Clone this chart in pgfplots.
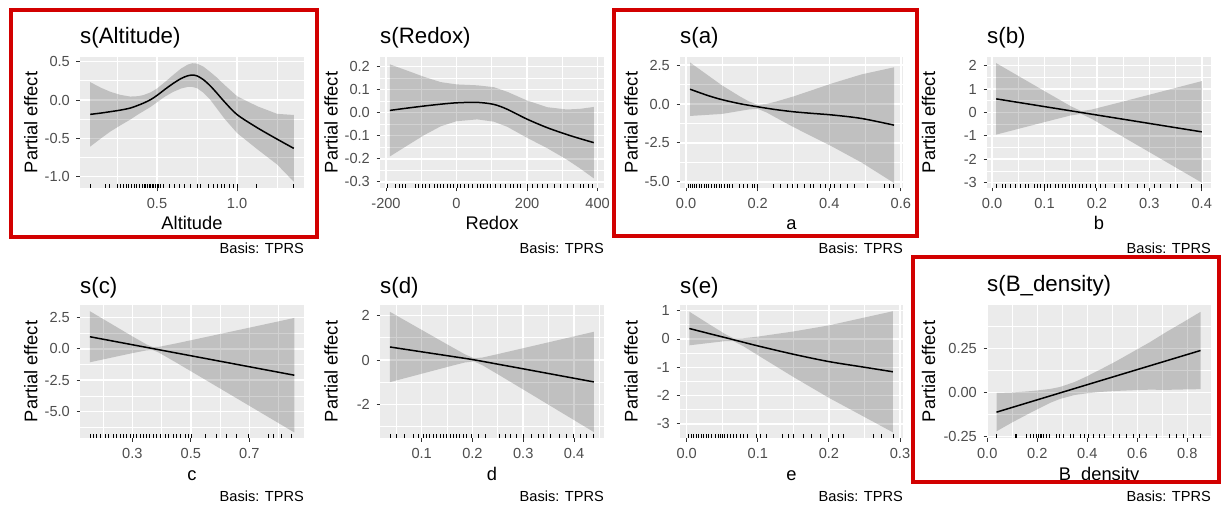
\documentclass[border=0pt]{standalone}
\usepackage{fontspec}
\setmainfont{Liberation Sans}
\usepackage{pgfplots}
\pgfplotsset{compat=1.18}
\definecolor{ggpanel}{HTML}{EBEBEB}
\definecolor{ggtext}{HTML}{4D4D4D}
\definecolor{ggtick}{HTML}{333333}
\definecolor{ggred}{HTML}{D20000}
\pgfdeclareplotmark{rug}{\pgfpathmoveto{\pgfqpoint{0pt}{0pt}}\pgfpathlineto{\pgfqpoint{0pt}{4pt}}\pgfusepathqstroke}
\newcommand\tickfont{\fontsize{14.6}{16}\selectfont}
\newcommand\labfont{\fontsize{18.3}{20}\selectfont}
\newcommand\titfont{\fontsize{22.3}{24}\selectfont}
% panel background and grid (L B W H min max list width)
\newcommand\vgrid[8]{%
  \foreach \v in {#7}{%
    \pgfmathsetmacro\pp{#1+(\v-(#5))/((#6)-(#5))*#3}%
    \draw[white, line width=#8] (\pp pt,#2pt) -- (\pp pt,#2pt+#4pt);
  }%
}
\newcommand\hgrid[8]{%
  \foreach \v in {#7}{%
    \pgfmathsetmacro\pp{#2+(\v-(#5))/((#6)-(#5))*#4}%
    \draw[white, line width=#8] (#1pt,\pp pt) -- (#1pt+#3pt,\pp pt);
  }%
}
\pgfplotsset{
  gg/.style={
    scale only axis, anchor=south west,
    axis line style={draw=none},
    tick align=outside, tick pos=left,
    major tick length=3.5pt,
    tick style={draw=ggtick, line width=0.9pt},
    xticklabel style={font=\tickfont, text=ggtext, inner sep=0pt, yshift=-6.5pt},
    yticklabel style={font=\tickfont, text=ggtext, inner sep=0pt, xshift=-6.5pt},
  },
  ribbon/.style={draw=none, fill=black, fill opacity=0.18},
  fit/.style={black, line width=1.5pt, smooth},
  rug/.style={only marks, mark=rug, black, line width=0.8pt},
}
\begin{document}
\begin{tikzpicture}
\useasboundingbox (0pt,0pt) rectangle (1227pt,504pt);

% ---------- panel backgrounds and grids
\fill[ggpanel] (80pt,316pt) rectangle ++(224pt,131pt);
\vgrid{80}{316}{224}{131}{0.019}{1.418}{0.25,0.75,1.25}{0.75pt}
\hgrid{80}{316}{224}{131}{-1.147}{0.561}{-0.75,-0.25,0.25}{0.75pt}
\vgrid{80}{316}{224}{131}{0.019}{1.418}{0.5,1}{1.5pt}
\hgrid{80}{316}{224}{131}{-1.147}{0.561}{-1,-0.5,0,0.5}{1.5pt}

\fill[ggpanel] (380pt,316pt) rectangle ++(224pt,131pt);
\vgrid{380}{316}{224}{131}{-217}{418}{-100,100,300}{0.75pt}
\hgrid{380}{316}{224}{131}{-0.327}{0.242}{-0.25,-0.15,-0.05,0.05,0.15}{0.75pt}
\vgrid{380}{316}{224}{131}{-217}{418}{-200,0,200,400}{1.5pt}
\hgrid{380}{316}{224}{131}{-0.327}{0.242}{-0.3,-0.2,-0.1,0,0.1,0.2}{1.5pt}

\fill[ggpanel] (680pt,316pt) rectangle ++(223pt,131pt);
\vgrid{680}{316}{223}{131}{-0.017}{0.606}{0.1,0.3,0.5}{0.75pt}
\hgrid{680}{316}{223}{131}{-5.4}{3.02}{-3.75,-1.25,1.25}{0.75pt}
\vgrid{680}{316}{223}{131}{-0.017}{0.606}{0,0.2,0.4,0.6}{1.5pt}
\hgrid{680}{316}{223}{131}{-5.4}{3.02}{-5,-2.5,0,2.5}{1.5pt}

\fill[ggpanel] (987pt,316pt) rectangle ++(224pt,131pt);
\vgrid{987}{316}{224}{131}{-0.0096}{0.4176}{0.05,0.15,0.25,0.35}{0.75pt}
\hgrid{987}{316}{224}{131}{-3.23}{2.37}{-2.5,-1.5,-0.5,0.5,1.5}{0.75pt}
\vgrid{987}{316}{224}{131}{-0.0096}{0.4176}{0,0.1,0.2,0.3,0.4}{1.5pt}
\hgrid{987}{316}{224}{131}{-3.23}{2.37}{-3,-2,-1,0,1,2}{1.5pt}

\fill[ggpanel] (80pt,66pt) rectangle ++(224pt,133pt);
\vgrid{80}{66}{224}{133}{0.121}{0.887}{0.2,0.4,0.6,0.8}{0.75pt}
\hgrid{80}{66}{224}{133}{-7.09}{3.48}{-6.25,-3.75,-1.25,1.25}{0.75pt}
\vgrid{80}{66}{224}{133}{0.121}{0.887}{0.3,0.5,0.7}{1.5pt}
\hgrid{80}{66}{224}{133}{-7.09}{3.48}{-5,-2.5,0,2.5}{1.5pt}

\fill[ggpanel] (380pt,66pt) rectangle ++(224pt,133pt);
\vgrid{380}{66}{224}{133}{0.018}{0.459}{0.05,0.15,0.25,0.35,0.45}{0.75pt}
\hgrid{380}{66}{224}{133}{-3.52}{2.48}{-3,-1,1}{0.75pt}
\vgrid{380}{66}{224}{133}{0.018}{0.459}{0.1,0.2,0.3,0.4}{1.5pt}
\hgrid{380}{66}{224}{133}{-3.52}{2.48}{-2,0,2}{1.5pt}

\fill[ggpanel] (680pt,66pt) rectangle ++(223pt,133pt);
\vgrid{680}{66}{223}{133}{-0.0094}{0.3042}{0.05,0.15,0.25}{0.75pt}
\hgrid{680}{66}{223}{133}{-3.5}{1.2}{-2.5,-1.5,-0.5,0.5}{0.75pt}
\vgrid{680}{66}{223}{133}{-0.0094}{0.3042}{0,0.1,0.2,0.3}{1.5pt}
\hgrid{680}{66}{223}{133}{-3.5}{1.2}{-3,-2,-1,0,1}{1.5pt}

\fill[ggpanel] (987pt,66pt) rectangle ++(224pt,133pt);
\vgrid{987}{66}{224}{133}{-0.001}{0.895}{0.1,0.3,0.5,0.7}{0.75pt}
\hgrid{987}{66}{224}{133}{-0.259}{0.498}{-0.125,0.125,0.375}{0.75pt}
\vgrid{987}{66}{224}{133}{-0.001}{0.895}{0,0.2,0.4,0.6,0.8}{1.5pt}
\hgrid{987}{66}{224}{133}{-0.259}{0.498}{-0.25,0,0.25}{1.5pt}

% ---------- P1 Altitude
\begin{axis}[gg, at={(80pt,316pt)}, width=224pt, height=131pt,
  xmin=0.019, xmax=1.418, ymin=-1.147, ymax=0.561,
  xtick={0.5,1}, xticklabels={0.5,1.0},
  ytick={-1,-0.5,0,0.5}, yticklabels={-1.0,-0.5,0.0,0.5}]
\addplot[ribbon] coordinates {(0.083,0.233)(0.15,0.16)(0.208,0.108)(0.27,0.068)(0.333,0.045)(0.38,0.05)(0.416,0.065)(0.46,0.10)(0.5,0.15)(0.55,0.235)(0.6,0.325)(0.65,0.41)(0.69,0.46)(0.72,0.48)(0.75,0.475)(0.79,0.435)(0.83,0.37)(0.87,0.30)(0.92,0.20)(1.0,0.05)(1.125,-0.08)(1.25,-0.18)(1.354,-0.195)
(1.354,-1.065)(1.25,-0.84)(1.125,-0.64)(1.0,-0.43)(0.92,-0.24)(0.87,-0.10)(0.83,0.01)(0.79,0.095)(0.75,0.155)(0.72,0.17)(0.69,0.17)(0.65,0.15)(0.6,0.105)(0.55,0.045)(0.5,-0.03)(0.46,-0.09)(0.416,-0.145)(0.38,-0.19)(0.333,-0.255)(0.27,-0.332)(0.208,-0.412)(0.15,-0.50)(0.083,-0.607)} -- cycle;
\addplot[fit] coordinates {(0.083,-0.187)(0.15,-0.17)(0.208,-0.152)(0.27,-0.132)(0.333,-0.105)(0.38,-0.07)(0.416,-0.04)(0.46,0.005)(0.5,0.06)(0.55,0.14)(0.6,0.215)(0.65,0.28)(0.69,0.315)(0.72,0.325)(0.75,0.315)(0.79,0.265)(0.83,0.19)(0.87,0.10)(0.92,-0.02)(1.0,-0.19)(1.125,-0.36)(1.25,-0.51)(1.354,-0.63)};
\addplot[rug] table[row sep=\\, y expr=-1.147] {x\\0.083\\0.18\\0.2\\0.25\\0.27\\0.29\\0.31\\0.32\\0.34\\0.36\\0.37\\0.39\\0.41\\0.42\\0.43\\0.44\\0.45\\0.46\\0.47\\0.48\\0.49\\0.50\\0.51\\0.52\\0.54\\0.58\\0.61\\0.64\\0.67\\0.71\\0.75\\0.77\\0.82\\0.85\\0.88\\0.90\\0.92\\0.95\\0.98\\1.0\\1.12\\1.35\\};
\end{axis}

% ---------- P2 Redox
\begin{axis}[gg, at={(380pt,316pt)}, width=224pt, height=131pt,
  xmin=-217, xmax=418, ymin=-0.327, ymax=0.242,
  xtick={-200,0,200,400}, xticklabels={-200,0,200,400},
  ytick={-0.3,-0.2,-0.1,0,0.1,0.2}, yticklabels={-0.3,-0.2,-0.1,0.0,0.1,0.2}]
\addplot[ribbon] coordinates {(-189,0.21)(-140,0.183)(-92.5,0.156)(-45,0.133)(0,0.123)(58.5,0.119)(105.8,0.111)(143.5,0.091)(200,0.053)(257,0.024)(313,0.014)(351,0.017)(389,0.025)
(389,-0.285)(351,-0.243)(313,-0.204)(257,-0.154)(200,-0.109)(143.5,-0.061)(105.8,-0.039)(58.5,-0.029)(0,-0.037)(-45,-0.059)(-92.5,-0.098)(-140,-0.143)(-189,-0.19)} -- cycle;
\addplot[fit] coordinates {(-189,0.010)(-140,0.02)(-92.5,0.029)(-45,0.037)(0,0.043)(58.5,0.045)(105.8,0.036)(143.5,0.015)(200,-0.028)(257,-0.065)(313,-0.095)(351,-0.113)(389,-0.13)};
\addplot[rug] table[row sep=\\, y expr=-0.327] {x\\-196\\-173\\-163\\-154\\-144\\-116\\-107\\-97\\-88\\-78\\-64\\-55\\-45\\-36\\-26\\-17\\-8\\2\\11\\21\\35\\44\\59\\68\\77\\87\\96\\110\\125\\139\\153\\162\\172\\181\\200\\214\\229\\243\\257\\276\\295\\314\\332\\351\\361\\375\\384\\};
\end{axis}

% ---------- P3 a
\begin{axis}[gg, at={(680pt,316pt)}, width=223pt, height=131pt,
  xmin=-0.017, xmax=0.606, ymin=-5.40, ymax=3.02,
  xtick={0,0.2,0.4,0.6}, xticklabels={0.0,0.2,0.4,0.6},
  ytick={-5,-2.5,0,2.5}, yticklabels={-5.0,-2.5,0.0,2.5}]
\addplot[ribbon] coordinates {(0.011,2.67)(0.1,1.2)(0.15,0.49)(0.175,0.172)(0.2,-0.05)(0.225,0.006)(0.25,0.145)(0.3,0.485)(0.41,1.34)(0.49,1.9)(0.581,2.36)
(0.581,-5.08)(0.49,-3.76)(0.41,-2.76)(0.3,-1.485)(0.25,-0.865)(0.225,-0.546)(0.2,-0.31)(0.175,-0.352)(0.15,-0.45)(0.1,-0.64)(0.011,-0.77)} -- cycle;
\addplot[fit] coordinates {(0.011,0.95)(0.06,0.55)(0.1,0.28)(0.15,0.02)(0.2,-0.18)(0.25,-0.36)(0.3,-0.5)(0.35,-0.6)(0.41,-0.71)(0.49,-0.93)(0.581,-1.36)};
\addplot[rug] table[row sep=\\, y expr=-5.40] {x\\0.007\\0.012\\0.018\\0.024\\0.03\\0.036\\0.042\\0.05\\0.056\\0.063\\0.07\\0.078\\0.085\\0.093\\0.1\\0.108\\0.115\\0.122\\0.13\\0.15\\0.16\\0.17\\0.185\\0.19\\0.2\\0.245\\0.264\\0.282\\0.296\\0.31\\0.33\\0.348\\0.357\\0.376\\0.39\\0.404\\0.413\\0.432\\0.45\\0.469\\0.507\\0.553\\0.567\\0.578\\};
\end{axis}

% ---------- P4 b
\begin{axis}[gg, at={(987pt,316pt)}, width=224pt, height=131pt,
  xmin=-0.0096, xmax=0.4176, ymin=-3.23, ymax=2.37,
  xtick={0,0.1,0.2,0.3,0.4}, xticklabels={0.0,0.1,0.2,0.3,0.4},
  ytick={-3,-2,-1,0,1,2}, yticklabels={-3,-2,-1,0,1,2}]
\addplot[ribbon] coordinates {(0.008,2.107)(0.1,0.913)(0.15,0.268)(0.17,0.057)(0.19,0.123)(0.25,0.467)(0.3,0.757)(0.4,1.34)
(0.4,-3.0)(0.3,-1.697)(0.25,-1.047)(0.19,-0.273)(0.17,-0.063)(0.15,-0.128)(0.1,-0.413)(0.008,-0.947)} -- cycle;
\addplot[fit] coordinates {(0.008,0.58)(0.2,-0.11)(0.4,-0.83)};
\addplot[rug] table[row sep=\\, y expr=-3.23] {x\\0.008\\0.02\\0.026\\0.035\\0.045\\0.055\\0.064\\0.07\\0.08\\0.086\\0.092\\0.099\\0.105\\0.112\\0.121\\0.127\\0.134\\0.14\\0.147\\0.153\\0.159\\0.166\\0.172\\0.179\\0.188\\0.197\\0.207\\0.217\\0.233\\0.246\\0.261\\0.278\\0.29\\0.309\\0.322\\0.341\\0.354\\0.38\\0.4\\};
\end{axis}

% ---------- P5 c
\begin{axis}[gg, at={(80pt,66pt)}, width=224pt, height=133pt,
  xmin=0.121, xmax=0.887, ymin=-7.09, ymax=3.48,
  xtick={0.3,0.5,0.7}, xticklabels={0.3,0.5,0.7},
  ytick={-5,-2.5,0,2.5}, yticklabels={-5.0,-2.5,0.0,2.5}]
\addplot[ribbon] coordinates {(0.155,2.985)(0.3,0.992)(0.35,0.327)(0.37,0.137)(0.39,0.152)(0.45,0.429)(0.6,1.176)(0.854,2.451)
(0.854,-6.651)(0.6,-3.154)(0.45,-1.095)(0.39,-0.294)(0.37,-0.103)(0.35,-0.119)(0.3,-0.346)(0.155,-1.071)} -- cycle;
\addplot[fit] coordinates {(0.155,0.957)(0.5,-0.552)(0.854,-2.10)};
\addplot[rug] table[row sep=\\, y expr=-7.09] {x\\0.155\\0.167\\0.178\\0.19\\0.207\\0.218\\0.235\\0.247\\0.258\\0.269\\0.281\\0.292\\0.304\\0.315\\0.326\\0.338\\0.349\\0.36\\0.372\\0.383\\0.395\\0.412\\0.423\\0.44\\0.452\\0.463\\0.48\\0.491\\0.503\\0.549\\0.589\\0.623\\0.657\\0.697\\0.765\\0.782\\0.811\\0.845\\};
\end{axis}

% ---------- P6 d
\begin{axis}[gg, at={(380pt,66pt)}, width=224pt, height=133pt,
  xmin=0.018, xmax=0.459, ymin=-3.52, ymax=2.48,
  xtick={0.1,0.2,0.3,0.4}, xticklabels={0.1,0.2,0.3,0.4},
  ytick={-2,0,2}, yticklabels={-2,0,2}]
\addplot[ribbon] coordinates {(0.0376,2.172)(0.1,1.358)(0.16,0.578)(0.185,0.258)(0.203,0.077)(0.22,0.112)(0.25,0.266)(0.3,0.532)(0.439,1.272)
(0.439,-3.252)(0.3,-1.332)(0.25,-0.646)(0.22,-0.242)(0.203,-0.063)(0.185,-0.114)(0.16,-0.258)(0.1,-0.622)(0.0376,-1.0)} -- cycle;
\addplot[fit] coordinates {(0.0376,0.586)(0.1,0.368)(0.16,0.16)(0.203,0.007)(0.25,-0.19)(0.3,-0.40)(0.439,-0.99)};
\addplot[rug] table[row sep=\\, y expr=-3.52] {x\\0.038\\0.051\\0.067\\0.083\\0.093\\0.103\\0.11\\0.116\\0.123\\0.13\\0.136\\0.143\\0.149\\0.156\\0.162\\0.169\\0.175\\0.182\\0.189\\0.198\\0.211\\0.225\\0.254\\0.264\\0.274\\0.287\\0.3\\0.317\\0.33\\0.339\\0.353\\0.372\\0.385\\0.398\\0.412\\0.425\\0.439\\};
\end{axis}

% ---------- P7 e
\begin{axis}[gg, at={(680pt,66pt)}, width=223pt, height=133pt,
  xmin=-0.0094, xmax=0.3042, ymin=-3.5, ymax=1.2,
  xtick={0,0.1,0.2,0.3}, xticklabels={0.0,0.1,0.2,0.3},
  ytick={-3,-2,-1,0,1}, yticklabels={-3,-2,-1,0,1}]
\addplot[ribbon] coordinates {(0.0037,0.965)(0.03,0.547)(0.055,0.158)(0.066,0.022)(0.08,0.025)(0.1,0.083)(0.15,0.264)(0.2,0.48)(0.25,0.758)(0.29,0.98)
(0.29,-3.3)(0.25,-2.758)(0.2,-2.08)(0.15,-1.344)(0.1,-0.573)(0.08,-0.261)(0.066,-0.078)(0.055,-0.074)(0.03,-0.147)(0.0037,-0.225)} -- cycle;
\addplot[fit] coordinates {(0.0037,0.37)(0.03,0.2)(0.055,0.042)(0.08,-0.118)(0.1,-0.245)(0.15,-0.54)(0.2,-0.8)(0.25,-1.0)(0.29,-1.16)};
\addplot[rug] table[row sep=\\, y expr=-3.5] {x\\0.003\\0.006\\0.01\\0.013\\0.017\\0.02\\0.024\\0.028\\0.031\\0.035\\0.04\\0.044\\0.047\\0.05\\0.053\\0.057\\0.062\\0.066\\0.07\\0.075\\0.08\\0.085\\0.098\\0.104\\0.112\\0.135\\0.143\\0.15\\0.164\\0.175\\0.188\\0.205\\0.213\\0.22\\0.263\\0.274\\0.29\\};
\end{axis}

% ---------- P8 B_density
\begin{axis}[gg, at={(987pt,66pt)}, width=224pt, height=133pt,
  xmin=-0.001, xmax=0.895, ymin=-0.259, ymax=0.498,
  xtick={0,0.2,0.4,0.6,0.8}, xticklabels={0.0,0.2,0.4,0.6,0.8},
  ytick={-0.25,0,0.25}, yticklabels={-0.25,0.00,0.25}]
\addplot[ribbon] coordinates {(0.037,-0.003)(0.1,0.0)(0.184,0.009)(0.25,0.02)(0.29,0.031)(0.35,0.06)(0.397,0.091)(0.45,0.129)(0.517,0.179)(0.584,0.233)(0.65,0.286)(0.717,0.345)(0.78,0.397)(0.853,0.459)
(0.853,0.019)(0.78,0.017)(0.717,0.015)(0.65,0.016)(0.584,0.013)(0.517,0.009)(0.45,0.003)(0.397,-0.005)(0.35,-0.014)(0.29,-0.037)(0.25,-0.06)(0.184,-0.107)(0.1,-0.17)(0.037,-0.221)} -- cycle;
\addplot[fit] coordinates {(0.037,-0.112)(0.45,0.066)(0.853,0.239)};
\addplot[rug] table[row sep=\\, y expr=-0.259] {x\\0.037\\0.111\\0.117\\0.157\\0.171\\0.184\\0.197\\0.204\\0.211\\0.217\\0.224\\0.237\\0.25\\0.277\\0.29\\0.304\\0.331\\0.344\\0.371\\0.39\\0.404\\0.424\\0.45\\0.47\\0.504\\0.53\\0.557\\0.584\\0.61\\0.637\\0.677\\0.73\\0.757\\0.784\\0.824\\0.853\\};
\end{axis}

% ---------- x tick marks (axis decoration)
\begin{scope}[draw=ggtick, line width=0.9pt]
\foreach \x in {157.0,237.1,386.0,456.55,527.1,597.7,686.08,757.67,829.26,900.85,992.03,1044.47,1096.9,1149.34,1201.77}
  \draw (\x pt,316pt) -- (\x pt,312.5pt);
\foreach \x in {132.35,190.83,249.32,421.65,472.44,523.24,574.03,686.68,757.79,828.9,900.01,987.25,1037.25,1087.25,1137.25,1187.25}
  \draw (\x pt,66pt) -- (\x pt,62.5pt);
\end{scope}

% ---------- titles
\begin{scope}[every node/.style={font=\titfont, anchor=base west, inner sep=0pt}]
\node at (80pt,460.7pt) {s(Altitude)};
\node at (380pt,460.7pt) {s(Redox)};
\node at (680pt,460.7pt) {s(a)};
\node at (987pt,460.7pt) {s(b)};
\node at (80pt,210.7pt) {s(c)};
\node at (380pt,210.7pt) {s(d)};
\node at (680pt,210.7pt) {s(e)};
\node at (987pt,212pt) {s(B\_density)};
\end{scope}
% ---------- x labels
\begin{scope}[every node/.style={font=\labfont, anchor=base, inner sep=0pt}]
\node at (192pt,274.5pt) {Altitude};
\node at (492pt,274.5pt) {Redox};
\node at (791.5pt,274.5pt) {a};
\node at (1099pt,274.5pt) {b};
\node at (192pt,24pt) {c};
\node at (492pt,24pt) {d};
\node at (791.5pt,24pt) {e};
\node at (1099pt,24pt) {B\_density};
\end{scope}
% ---------- y labels
\begin{scope}[every node/.style={font=\labfont, anchor=base, inner sep=0pt, rotate=90}]
\node at (37.5pt,381.5pt) {Partial effect};
\node at (337.5pt,381.5pt) {Partial effect};
\node at (637.5pt,381.5pt) {Partial effect};
\node at (935pt,381.5pt) {Partial effect};
\node at (37.5pt,132.5pt) {Partial effect};
\node at (337.5pt,132.5pt) {Partial effect};
\node at (637.5pt,132.5pt) {Partial effect};
\node at (935pt,132.5pt) {Partial effect};
\end{scope}
% ---------- captions
\begin{scope}[every node/.style={font=\tickfont, anchor=base east, inner sep=0pt}]
\node at (304pt,250.5pt) {Basis: TPRS};
\node at (604pt,250.5pt) {Basis: TPRS};
\node at (903pt,250.5pt) {Basis: TPRS};
\node at (1211pt,250.5pt) {Basis: TPRS};
\node at (304pt,2.5pt) {Basis: TPRS};
\node at (604pt,2.5pt) {Basis: TPRS};
\node at (903pt,2.5pt) {Basis: TPRS};
\node at (1211pt,2.5pt) {Basis: TPRS};
\end{scope}
% ---------- red boxes
\draw[ggred, line width=4pt] (10.5pt,493.5pt) rectangle (317pt,266.5pt);
\draw[ggred, line width=4pt] (614pt,493.5pt) rectangle (917pt,268pt);
\draw[ggred, line width=4pt] (912.5pt,247pt) rectangle (1219pt,22pt);
\end{tikzpicture}
\end{document}
